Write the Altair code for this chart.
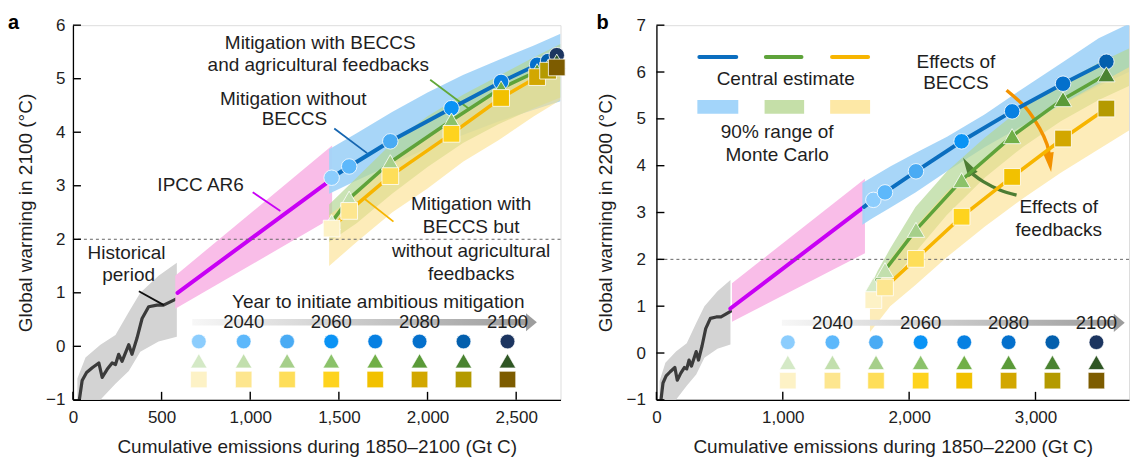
import altair as alt
import pandas as pd

FONT = "Liberation Sans"
TXT = "#1e1e1e"

years = [2030, 2040, 2050, 2060, 2070, 2080, 2090, 2100]
circle_colors = ["#8ccdfd", "#5db8fb", "#49abf4", "#0a93f5", "#0780e2", "#0470cc", "#035fad", "#1c3560"]
triangle_colors = ["#d4e9c6", "#c2dfad", "#a6cf8a", "#8bc26a", "#71af47", "#5a9a38", "#4a8331", "#2f5624"]
square_colors = ["#fdf2c6", "#fde68f", "#fede59", "#fed31e", "#f2c100", "#d2a700", "#b49a00", "#7d5c00"]

# ---------------- historical period (shared) ----------------
hist_emis = [25, 37, 52, 77, 109, 146, 165, 193, 221, 240, 258, 277, 315, 333, 361, 390, 427, 474, 511, 549, 586]
hist_temp = [-1.3, -0.98, -0.64, -0.49, -0.40, -0.31, -0.58, -0.43, -0.31, -0.34, -0.15, -0.28, 0.03, -0.15, 0.15, 0.52, 0.74, 0.77, 0.77, 0.83, 0.89]
hist_band_emis = [25, 71, 155, 240, 315, 380, 483, 586]
hist_band_lo = [-1.6, -1.5, -1.0, -0.7, -0.46, -0.1, 0.09, 0.18]
hist_band_hi = [-0.6, -0.21, 0.03, 0.21, 0.64, 1.0, 1.32, 1.56]

# ---------------- panel a (warming in 2100) ----------------
a_ipcc_emis = [590, 1459]
a_ipcc_temp = [1.0, 3.12]
a_ipcc_band_emis = [577, 1462]
a_ipcc_band_lo = [0.70, 2.40]
a_ipcc_band_hi = [1.32, 3.75]

a_emis = [1459, 1558, 1790, 2135, 2415, 2618, 2680, 2729]
a_blue = [3.15, 3.36, 3.83, 4.45, 4.94, 5.26, 5.33, 5.44]
a_green = [2.32, 2.76, 3.44, 4.22, 4.82, 5.14, 5.22, 5.32]
a_yellow = [2.20, 2.53, 3.18, 3.97, 4.64, 5.03, 5.15, 5.21]

a_band_emis = [1445, 1600, 1800, 2000, 2200, 2400, 2600, 2750]
a_blue_lo = [2.85, 3.10, 3.40, 3.70, 3.95, 4.20, 4.42, 4.58]
a_blue_hi = [3.68, 3.98, 4.38, 4.74, 5.07, 5.35, 5.62, 5.84]
a_green_lo = [1.95, 2.30, 2.85, 3.35, 3.80, 4.15, 4.45, 4.65]
a_green_hi = [2.65, 3.15, 3.80, 4.30, 4.70, 5.05, 5.40, 5.65]
a_yellow_lo = [1.50, 1.95, 2.50, 2.95, 3.45, 3.85, 4.30, 4.60]
a_yellow_hi = [2.45, 2.85, 3.45, 3.95, 4.40, 4.80, 5.15, 5.40]

# ---------------- panel b (warming in 2200) ----------------
b_ipcc_emis = [585, 1643]
b_ipcc_temp = [0.95, 3.12]
b_ipcc_band_emis = [598, 1650]
b_ipcc_band_lo = [0.67, 2.13]
b_ipcc_band_hi = [1.49, 3.72]

b_emis = [1717, 1809, 2054, 2415, 2815, 3218, 3561]
b_blue = [3.27, 3.43, 3.88, 4.52, 5.16, 5.75, 6.22]
b_green = [1.45, 1.77, 2.63, 3.69, 4.63, 5.42, 5.95]
b_yellow = [1.13, 1.40, 2.01, 2.91, 3.76, 4.58, 5.22]

b_blue_band_emis = [1630, 1700, 1850, 2050, 2300, 2600, 2900, 3200, 3500, 3740]
b_blue_lo = [2.74, 2.86, 3.10, 3.43, 3.88, 4.40, 4.86, 5.30, 5.70, 6.00]
b_blue_hi = [3.63, 3.74, 3.98, 4.27, 4.62, 5.10, 5.65, 6.18, 6.72, 7.03]
b_band_emis = [1690, 1750, 1850, 2050, 2300, 2600, 2900, 3200, 3500, 3740]
b_green_lo = [1.00, 1.20, 1.50, 2.15, 2.95, 3.75, 4.40, 4.95, 5.40, 5.70]
b_green_hi = [1.40, 1.75, 2.23, 3.12, 3.88, 4.60, 5.25, 5.75, 6.20, 6.50]
b_yellow_lo = [0.45, 0.65, 1.00, 1.45, 2.05, 2.70, 3.30, 3.85, 4.35, 4.75]
b_yellow_hi = [1.35, 1.60, 2.00, 2.70, 3.45, 4.15, 4.80, 5.30, 5.75, 6.10]

# ---------------- annotation texts ----------------
a_text = ["Mitigation with BECCS", "and agricultural feedbacks", "Mitigation without", "BECCS",
          "IPCC AR6", "Historical", "period", "Mitigation with", "BECCS but",
          "without agricultural", "feedbacks", "Year to initiate ambitious mitigation"]
a_text_emis = [1395, 1384, 1243, 1249, 720, 302, 314, 2246, 2246, 2246, 2246, 1722]
a_text_temp = [5.66, 5.25, 4.63, 4.24, 3.02, 1.74, 1.34, 2.65, 2.22, 1.79, 1.36, 0.82]

b_text = ["Central estimate", "90% range of", "Monte Carlo", "Effects of", "BECCS", "Effects of", "feedbacks"]
b_text_emis = [1023, 956, 956, 2370, 2370, 3184, 3184]
b_text_temp = [5.86, 4.72, 4.23, 6.22, 5.77, 3.12, 2.63]

# leader lines panel a (id, emission, temperature)
a_lead_id = ["g", "g", "b", "b", "m", "m", "y", "y", "k", "k"]
a_lead_emis = [2015, 2241, 1474, 1659, 1014, 1170, 1639, 1808, 372, 513]
a_lead_temp = [4.98, 4.42, 4.07, 3.61, 2.88, 2.53, 2.77, 2.33, 1.03, 0.77]
lead_colors = {"g": "#62a83a", "b": "#1565b0", "m": "#c800f5", "y": "#f7b500", "k": "#111111"}

# curved arrows panel b
b_beccs_arrow_emis = [2771, 2929, 3034, 3092, 3108]
b_beccs_arrow_temp = [5.61, 5.22, 4.79, 4.45, 4.22]
b_fb_arrow_emis = [2850, 2718, 2587, 2504]
b_fb_arrow_temp = [3.37, 3.48, 3.66, 3.82]

# year keys
a_key_emis = [710, 963, 1208, 1457, 1705, 1955, 2203, 2451]
b_key_emis = [1040, 1393, 1738, 2091, 2436, 2787, 3134, 3482]
key_year_labels = ["2040", "2060", "2080", "2100"]

# central estimate / range key (panel b)
b_key_line_x1 = [340, 866, 1390]
b_key_line_x2 = [632, 1148, 1675]
b_key_band_x1 = [324, 856, 1375]
b_key_band_x2 = [648, 1169, 1691]

BLUE_LINE, GREEN_LINE, YELLOW_LINE = "#0b6ebf", "#5ea33a", "#f7b500"
BLUE_BAND, GREEN_BAND, YELLOW_BAND = "#a3d4f8", "#b3d795", "#fbe08a"


def panel(letter, width, xdom, ydom, xticks, yticks, xtitle, ytitle, ylabpad, ytitlex, d):
    H = 375
    xsc = alt.Scale(domain=xdom, nice=False, zero=False)
    ysc = alt.Scale(domain=ydom, nice=False, zero=False)
    xax = alt.Axis(values=xticks, format=",d", title=xtitle, ticks=False, grid=False,
                   domainColor="black", domainWidth=1.3, labelFont=FONT, labelFontSize=17,
                   labelColor=TXT, labelPadding=10, labelFlush=False, labelOverlap=False,
                   titleFont=FONT, titleFontSize=19, titleFontWeight="normal", titleColor=TXT,
                   titlePadding=12)
    yax = alt.Axis(values=yticks, format="d", title=ytitle, ticks=False, grid=False,
                   domainColor="black", domainWidth=1.3, labelFont=FONT, labelFontSize=17,
                   labelColor=TXT, labelPadding=ylabpad, labelFlush=False, labelOverlap=False,
                   titleFont=FONT, titleFontSize=19, titleFontWeight="normal", titleColor=TXT,
                   titleX=ytitlex)

    def X(f):
        return alt.X(f, type="quantitative", scale=xsc, axis=xax)

    def Y(f):
        return alt.Y(f, type="quantitative", scale=ysc, axis=yax)

    layers = []

    def band(xs, lo, hi, color, opacity=1.0):
        df = pd.DataFrame({"x": xs, "lo": lo, "hi": hi})
        return alt.Chart(df).mark_area(color=color, opacity=opacity, clip=True).encode(
            x=X("x"), y=Y("lo"), y2=alt.Y2("hi"))

    def line(xs, ys, color, w):
        df = pd.DataFrame({"x": xs, "y": ys, "i": list(range(len(xs)))})
        return alt.Chart(df).mark_line(color=color, strokeWidth=w, clip=True, strokeCap="round",
                                       strokeJoin="round").encode(x=X("x"), y=Y("y"), order="i:Q")

    # historical
    layers.append(band(hist_band_emis, hist_band_lo, hist_band_hi, "#d3d3d3"))
    layers.append(line(hist_emis, hist_temp, "#3b3b3b", 3.2))
    # IPCC
    layers.append(band(d["ipcc_band_emis"], d["ipcc_band_lo"], d["ipcc_band_hi"], "#f9bde8"))
    layers.append(line(d["ipcc_emis"], d["ipcc_temp"], "#c800f5", 4))
    # scenario bands
    layers.append(band(d["blue_band_emis"], d["blue_lo"], d["blue_hi"], BLUE_BAND, 0.95))
    layers.append(band(d["band_emis"], d["green_lo"], d["green_hi"], GREEN_BAND, 0.7))
    layers.append(band(d["band_emis"], d["yellow_lo"], d["yellow_hi"], YELLOW_BAND, 0.6))
    # 2 degree line
    layers.append(alt.Chart(pd.DataFrame({"y": [2]})).mark_rule(
        color="#666", strokeWidth=1, strokeDash=[3, 3]).encode(y=Y("y")))
    # leader lines / arrows
    for extra in d.get("extra", []):
        layers.append(extra(X, Y))
    # central lines
    layers.append(line(d["blue_line_emis"], d["blue_line"], BLUE_LINE, 4))
    layers.append(line(d["emis"], d["green"], GREEN_LINE, 3.5))
    layers.append(line(d["emis"], d["yellow"], YELLOW_LINE, 3.5))
    n = len(d["emis"])
    for vals, shape, size, cols in [(d["blue"], "circle", 240, circle_colors),
                                    (d["green"], "triangle-up", 300, triangle_colors),
                                    (d["yellow"], "square", 280, square_colors)]:
        df = pd.DataFrame({"x": d["emis"], "y": vals, "c": cols[:n]})
        layers.append(alt.Chart(df).mark_point(filled=True, shape=shape, size=size, opacity=1,
                                               stroke="white", strokeWidth=0.8).encode(
            x=X("x"), y=Y("y"), color=alt.Color("c:N", scale=None)))
    # year key
    kx = d["key_emis"]
    arrow = d["key_arrow"]
    grad = alt.LinearGradient(gradient="linear", x1=0, x2=1, y1=0, y2=0,
                              stops=[alt.GradientStop(color="#f7f7f7", offset=0),
                                     alt.GradientStop(color="#9d9d9d", offset=1)])
    layers.append(alt.Chart(pd.DataFrame({"x": [arrow[0]], "x2": [arrow[1]], "y": [arrow[2]], "y2": [arrow[3]]}))
                  .mark_rect(color=grad).encode(x=X("x"), x2=alt.X2("x2"), y=Y("y"), y2=alt.Y2("y2")))
    layers.append(alt.Chart(pd.DataFrame({"x": [arrow[4]], "y": [arrow[5]]})).mark_point(
        shape="M-0.6,-1L0.6,0L-0.6,1Z", filled=True, size=330, color="#9d9d9d", opacity=1).encode(
        x=X("x"), y=Y("y")))
    for ty, shape, size, cols in [(d["key_rows"][0], "circle", 215, circle_colors),
                                  (d["key_rows"][1], "triangle-up", 270, triangle_colors),
                                  (d["key_rows"][2], "square", 270, square_colors)]:
        df = pd.DataFrame({"x": kx, "y": [ty] * 8, "c": cols})
        layers.append(alt.Chart(df).mark_point(filled=True, shape=shape, size=size, opacity=1,
                                               stroke="white", strokeWidth=0.6).encode(
            x=X("x"), y=Y("y"), color=alt.Color("c:N", scale=None)))
    layers.append(alt.Chart(pd.DataFrame({"x": kx[1::2], "y": [d["key_label_y"]] * 4, "t": key_year_labels}))
                  .mark_text(font=FONT, fontSize=18.5, color=TXT, align="center", baseline="middle")
                  .encode(x=X("x"), y=Y("y"), text="t:N"))
    # annotation texts
    layers.append(alt.Chart(pd.DataFrame({"x": d["text_emis"], "y": d["text_temp"], "t": d["text"]}))
                  .mark_text(font=FONT, fontSize=19, color=TXT, align="center", baseline="middle")
                  .encode(x=X("x"), y=Y("y"), text="t:N"))
    # inward ticks
    layers.append(alt.Chart(pd.DataFrame({"v": xticks})).mark_rule(color="black", strokeWidth=1.4)
                  .encode(x=X("v"), y=alt.value(H), y2=alt.value(H - 8)))
    layers.append(alt.Chart(pd.DataFrame({"v": yticks})).mark_rule(color="black", strokeWidth=1.4)
                  .encode(y=Y("v"), x=alt.value(0), x2=alt.value(8)))
    # panel letter
    layers.append(alt.Chart(pd.DataFrame({"t": [letter]})).mark_text(
        font=FONT, fontSize=20, fontWeight="bold", color="black", align="left", baseline="alphabetic")
                  .encode(x=alt.value(d["letter_x"]), y=alt.value(4), text="t:N"))

    return alt.layer(*layers).properties(width=width, height=H)


def leaders_a(X, Y):
    df = pd.DataFrame({"x": a_lead_emis, "y": a_lead_temp, "id": a_lead_id,
                       "c": [lead_colors[i] for i in a_lead_id], "i": list(range(len(a_lead_id)))})
    return alt.Chart(df).mark_line(strokeWidth=1.8).encode(
        x=X("x"), y=Y("y"), detail="id:N", color=alt.Color("c:N", scale=None), order="i:Q")


def beccs_arrow(X, Y):
    df = pd.DataFrame({"x": b_beccs_arrow_emis, "y": b_beccs_arrow_temp, "i": list(range(5))})
    line = alt.Chart(df).mark_line(color="#f39200", strokeWidth=3.4, interpolate="cardinal").encode(
        x=X("x"), y=Y("y"), order="i:Q")
    head = alt.Chart(pd.DataFrame({"x": [3113], "y": [4.07]})).mark_point(
        shape="M-0.55,-1L0.55,-1L0,1Z", filled=True, size=380, color="#f39200", opacity=1, angle=352).encode(
        x=X("x"), y=Y("y"))
    return alt.layer(line, head)


def fb_arrow(X, Y):
    df = pd.DataFrame({"x": b_fb_arrow_emis, "y": b_fb_arrow_temp, "i": list(range(4))})
    line = alt.Chart(df).mark_line(color="#4d7d33", strokeWidth=3.4, interpolate="cardinal").encode(
        x=X("x"), y=Y("y"), order="i:Q")
    head = alt.Chart(pd.DataFrame({"x": [2466], "y": [3.99]})).mark_point(
        shape="M-0.55,1L0.55,1L0,-1Z", filled=True, size=380, color="#4d7d33", opacity=1, angle=329).encode(
        x=X("x"), y=Y("y"))
    return alt.layer(line, head)


def b_key(X, Y):
    cols_line = [BLUE_LINE, GREEN_LINE, YELLOW_LINE]
    cols_band = ["#a3d5fa", "#c5dfa8", "#fde8a6"]
    l = alt.Chart(pd.DataFrame({"x": b_key_line_x1, "x2": b_key_line_x2, "y": [6.32] * 3, "c": cols_line})).mark_rule(
        strokeWidth=4, strokeCap="round").encode(x=X("x"), x2=alt.X2("x2"), y=Y("y"), color=alt.Color("c:N", scale=None))
    r = alt.Chart(pd.DataFrame({"x": b_key_band_x1, "x2": b_key_band_x2, "y": [5.11] * 3, "y2": [5.40] * 3, "c": cols_band})).mark_rect().encode(
        x=X("x"), x2=alt.X2("x2"), y=Y("y"), y2=alt.Y2("y2"), color=alt.Color("c:N", scale=None))
    return alt.layer(l, r)


da = dict(ipcc_emis=a_ipcc_emis, ipcc_temp=a_ipcc_temp, ipcc_band_emis=a_ipcc_band_emis,
          ipcc_band_lo=a_ipcc_band_lo, ipcc_band_hi=a_ipcc_band_hi,
          blue_band_emis=a_band_emis, band_emis=a_band_emis,
          blue_lo=a_blue_lo, blue_hi=a_blue_hi, green_lo=a_green_lo, green_hi=a_green_hi,
          yellow_lo=a_yellow_lo, yellow_hi=a_yellow_hi,
          emis=a_emis, blue=a_blue, green=a_green, yellow=a_yellow,
          blue_line_emis=a_emis, blue_line=a_blue,
          key_emis=a_key_emis, key_rows=[0.09, -0.27, -0.62], key_label_y=0.45,
          key_arrow=[673, 2560, 0.39, 0.51, 2586, 0.45],
          text=a_text, text_emis=a_text_emis, text_temp=a_text_temp,
          extra=[leaders_a], letter_x=-65)

db = dict(ipcc_emis=b_ipcc_emis, ipcc_temp=b_ipcc_temp, ipcc_band_emis=b_ipcc_band_emis,
          ipcc_band_lo=b_ipcc_band_lo, ipcc_band_hi=b_ipcc_band_hi,
          blue_band_emis=b_blue_band_emis, band_emis=b_band_emis,
          blue_lo=b_blue_lo, blue_hi=b_blue_hi, green_lo=b_green_lo, green_hi=b_green_hi,
          yellow_lo=b_yellow_lo, yellow_hi=b_yellow_hi,
          emis=b_emis, blue=b_blue, green=b_green, yellow=b_yellow,
          blue_line_emis=[b_ipcc_emis[1]] + b_emis, blue_line=[b_ipcc_temp[1]] + b_blue,
          key_emis=b_key_emis, key_rows=[0.23, -0.20, -0.59], key_label_y=0.64,
          key_arrow=[993, 3630, 0.58, 0.71, 3663, 0.645],
          text=b_text, text_emis=b_text_emis, text_temp=b_text_temp,
          extra=[b_key, beccs_arrow, fb_arrow], letter_x=-60)

pa = panel("a", 488, [0, 2750], [-1, 6], [0, 500, 1000, 1500, 2000, 2500], list(range(-1, 7)),
           "Cumulative emissions during 1850–2100 (Gt C)", "Global warming in 2100 (°C)", 8, -37, da)
pb = panel("b", 473, [0, 3740], [-1, 7], [0, 1000, 2000, 3000], list(range(-1, 8)),
           "Cumulative emissions during 1850–2200 (Gt C)", "Global warming in 2200 (°C)", 11, -41, db)

chart = alt.hconcat(pa, pb, spacing=96, bounds="flush").properties(
    padding={"left": 7, "top": 12, "right": 0, "bottom": 0}
).configure_view(stroke=None).configure(background="white")

chart.save("out.html", embed_options={"renderer": "svg", "actions": False})
